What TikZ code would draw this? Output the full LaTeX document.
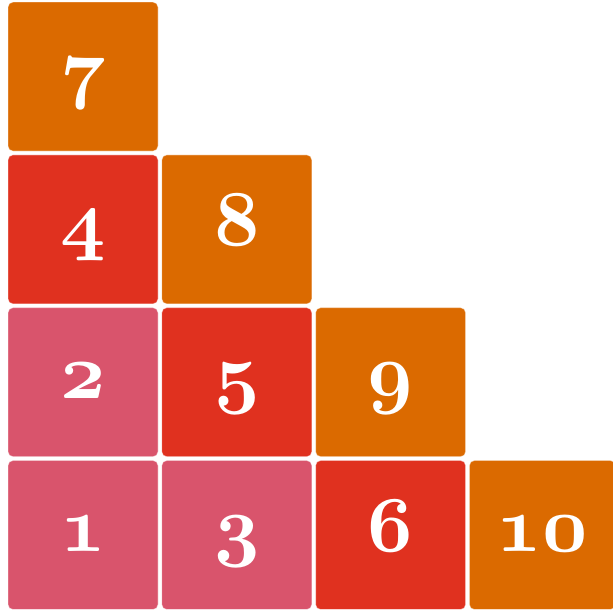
\documentclass[tikz,border=0pt]{standalone}
\usepackage{fix-cm}
\usepackage{tikz}
\usetikzlibrary{positioning}

\definecolor{tilepink}{RGB}{217,84,108}
\definecolor{tilered}{RGB}{224,49,31}
\definecolor{tileorange}{RGB}{219,106,0}

% bold old-style figures at any size
\newcommand{\tilenum}[1]{{\usefont{OML}{cmm}{b}{it}#1}}

\begin{document}
\begin{tikzpicture}[x=1pt, y=1pt, node distance=3pt,
    tile/.style={rounded corners=5pt, minimum width=150pt, minimum height=149pt,
        inner sep=0pt, draw=white, draw opacity=0.45, line width=0.8pt,
        text=white, font=\fontsize{79}{95}\selectfont,
        text height=33pt, text depth=0pt}]

    % Page frame
    \useasboundingbox (0,0) rectangle (613,610);

    % Bottom row
    \node[tile, fill=tilepink] (t1) at (83,75) {\tilenum{1}};
    \node[tile, fill=tilepink, right=of t1] (t3) {\tilenum{3}};
    \node[tile, fill=tilered, right=of t3] (t6) {\tilenum{6}};
    \node[tile, fill=tileorange, right=of t6, minimum width=146pt] (t10) {\tilenum{10}};

    % Second row
    \node[tile, fill=tilepink, above=of t1] (t2) {\tilenum{2}};
    \node[tile, fill=tilered, above=of t3] (t5) {\tilenum{5}};
    \node[tile, fill=tileorange, above=of t6] (t9) {\tilenum{9}};

    % Third row
    \node[tile, fill=tilered, above=of t2] (t4) {\tilenum{4}};
    \node[tile, fill=tileorange, above=of t5] (t8) {\tilenum{8}};

    % Top row
    \node[tile, fill=tileorange, above=of t4] (t7) {\tilenum{7}};

\end{tikzpicture}
\end{document}
